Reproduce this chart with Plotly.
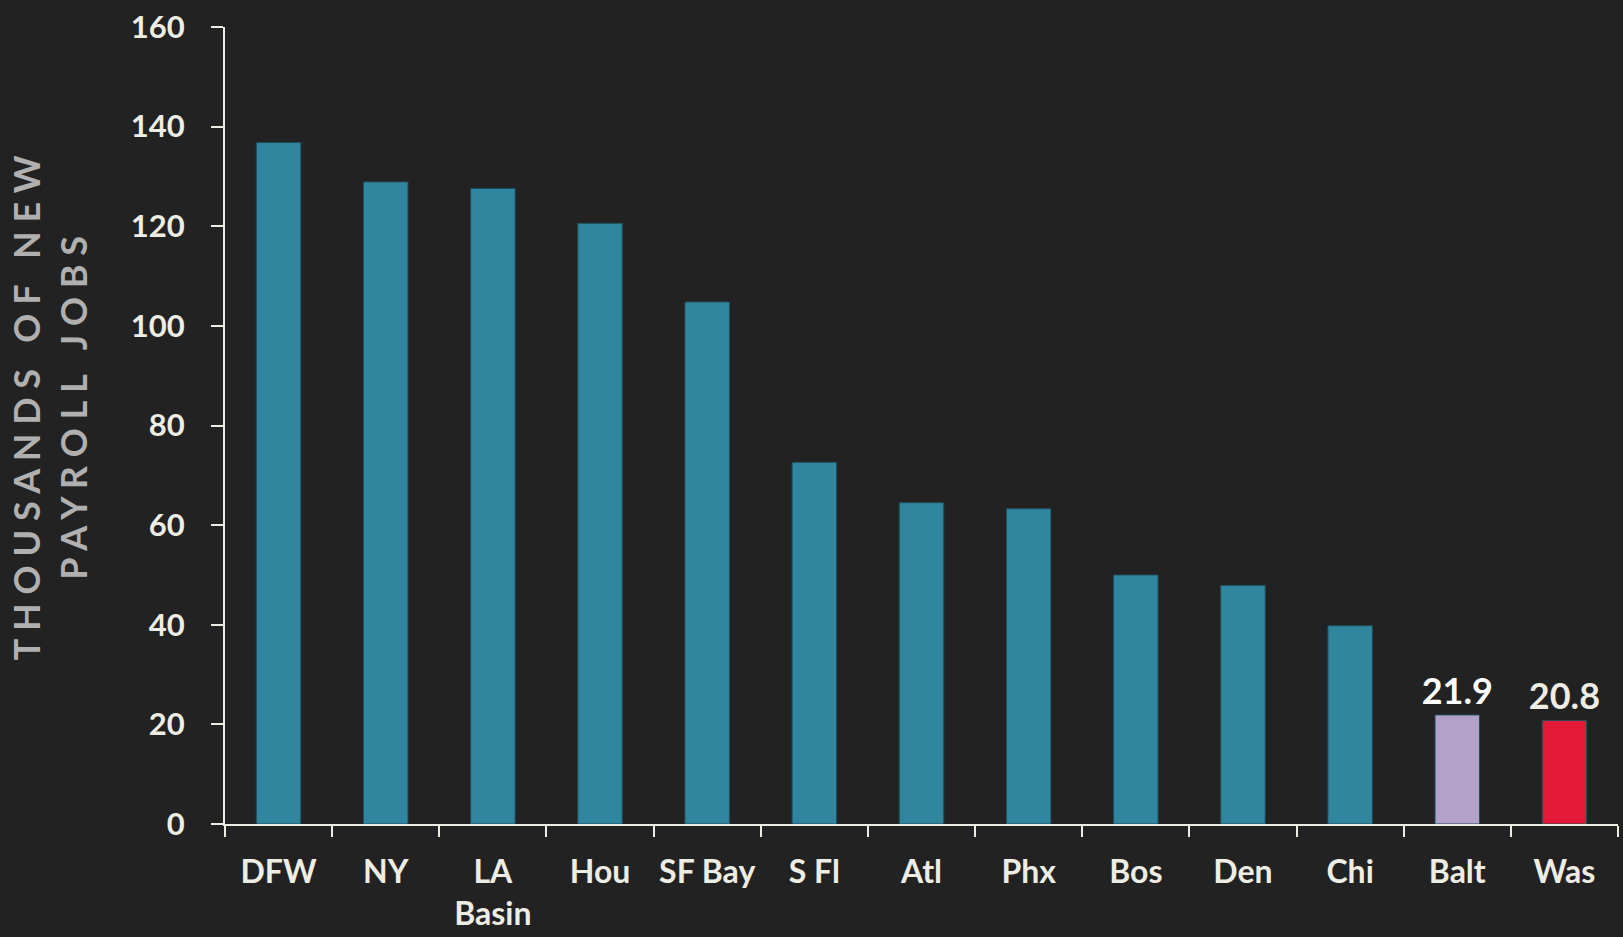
import plotly.graph_objects as go

categories = ["DFW", "NY", "LA<br>Basin", "Hou", "SF Bay", "S Fl", "Atl", "Phx", "Bos", "Den", "Chi", "Balt", "Was"]
values = [136.8, 128.9, 127.6, 120.6, 104.8, 72.6, 64.5, 63.3, 50.0, 47.9, 39.8, 21.9, 20.8]
bar_colors = ["#31869f"] * 11 + ["#b3a2c7", "#e31937"]
value_labels = [""] * 11 + ["21.9", "20.8"]
label_colors = ["#ffffff"] * 11 + ["#ffffff", "#eeede4"]

y_ticks = [0, 20, 40, 60, 80, 100, 120, 140, 160]

BG = "#222222"
CREAM = "#eeede4"
FONT = "Lato"

fig = go.Figure()
fig.add_trace(go.Bar(
    x=categories,
    y=values,
    marker=dict(color=bar_colors, line=dict(color="#1f4e5c", width=1)),
    text=value_labels,
    textposition="outside",
    constraintext="none",
    textfont=dict(family=FONT, size=36, color=label_colors, weight="bold"),
    cliponaxis=False,
    width=0.415,
    hoverinfo="x+y",
))

fig.update_layout(
    width=1623,
    height=937,
    paper_bgcolor=BG,
    plot_bgcolor=BG,
    margin=dict(l=225, r=5, t=27, b=111),
    showlegend=False,
    font=dict(family=FONT, color=CREAM),
    xaxis=dict(
        type="category",
        tickson="boundaries",
        tickangle=0,
        ticks="outside",
        ticklen=11,
        tickwidth=2,
        tickcolor=CREAM,
        showline=True,
        linecolor=CREAM,
        linewidth=2,
        showgrid=False,
        tickfont=dict(family=FONT, size=32, color=CREAM, weight="bold"),
        ticklabelstandoff=19,
    ),
    yaxis=dict(
        range=[0, 160],
        tickvals=y_ticks,
        ticks="outside",
        ticklen=12,
        tickwidth=2,
        tickcolor=CREAM,
        showline=True,
        linecolor=CREAM,
        linewidth=2,
        showgrid=False,
        zeroline=False,
        tickfont=dict(family=FONT, size=31, color=CREAM, weight="bold"),
        ticklabelstandoff=20,
    ),
    annotations=[dict(
        text="T H O U S A N D S &nbsp; O F &nbsp; N E W<br>P A Y R O L L &nbsp; J O B S",
        xref="paper", yref="paper",
        x=-0.1255, y=0.522,
        xanchor="center", yanchor="middle",
        textangle=-90,
        showarrow=False,
        align="center",
        font=dict(family=FONT, size=36, color="#b0b0b0", weight="bold"),
    )],
)

fig.write_html(
    "out.html",
    config={"displayModeBar": False},
    post_script="document.body.style.margin='0';document.body.style.background='#222222';",
)
